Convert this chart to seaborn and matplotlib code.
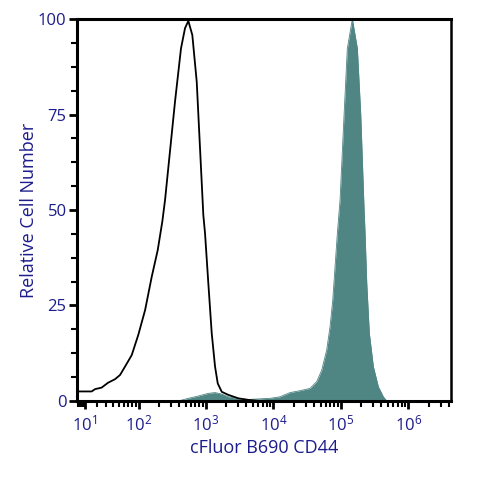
import numpy as np
import matplotlib
matplotlib.use("Agg")
from matplotlib import pyplot as plt
from matplotlib.ticker import FixedLocator, FixedFormatter
import seaborn as sns

# control (unstained) histogram, open black line
ctrl_x = [4.2, 15.4, 18.4, 25, 32.9, 42.8, 51.6, 61.8, 78.4, 98.7, 125, 157, 193, 226,
          248, 349, 428, 491, 550, 630, 732, 819, 917, 972, 1088, 1222, 1368, 1500,
          1720, 2153, 3027, 4216, 6356]
ctrl_y = [2.5, 2.5, 3.1, 3.5, 4.8, 5.7, 6.8, 9.0, 12.0, 17.3, 23.8, 32.5, 39.5, 47.0,
          52.6, 78.4, 92.3, 97.6, 99.5, 95.8, 83.6, 66.2, 48.7, 43.9, 30.8, 17.7, 9.0, 4.6,
          2.4, 1.6, 0.7, 0.3, 0.0]

# cFluor B690 CD44 stained histogram, filled
stain_x = [390, 550, 773, 1088, 1368, 1720, 2153, 3027, 4262, 8930, 12560, 17660,
           24860, 34940, 43960, 52140, 61800, 69220, 75880, 82100, 88800, 97340,
           111600, 124800, 148100, 175700, 197400, 220700, 228600, 242200, 264600,
           303400, 360000, 426600, 479200]
stain_y = [0.0, 0.7, 1.3, 2.0, 2.2, 1.8, 1.1, 0.6, 0.4, 0.7, 1.1, 2.2,
           2.7, 3.3, 5.1, 8.1, 13.4, 19.5, 26.4, 35.2, 43.9, 52.6,
           74.9, 92.3, 100.0, 92.3, 74.9, 50.4, 43.9, 30.8, 17.7,
           9.0, 3.7, 1.1, 0.0]

x_major = [10, 100, 1000, 10000, 100000, 1000000]
x_major_labels = ["$10^{1}$", "$10^{2}$", "$10^{3}$", "$10^{4}$", "$10^{5}$", "$10^{6}$"]
y_major = [0, 25, 50, 75, 100]

navy = "#1c1c8c"
teal = "#4f8583"

sns.set_style("ticks")
plt.rcParams['font.family'] = ['Open Sans', 'DejaVu Sans']
plt.rcParams['mathtext.fontset'] = 'custom'
plt.rcParams['mathtext.rm'] = 'Open Sans'
plt.rcParams['mathtext.it'] = 'Open Sans'

fig = plt.figure(figsize=(4.8, 4.8), dpi=100)
ax = fig.add_axes([0.1604, 0.1646, 0.7792, 0.7958])


def fwd(v):
    return np.arcsinh(np.asarray(v) / 20.0)


def inv(v):
    return 20.0 * np.sinh(np.asarray(v))


ax.set_xscale('function', functions=(fwd, inv))

ax.fill_between(stain_x, stain_y, 0, color=teal, lw=0, zorder=2)
sns.lineplot(x=stain_x, y=stain_y, color=teal, lw=0.6, sort=False, estimator=None,
             ax=ax, zorder=2)
sns.lineplot(x=ctrl_x, y=ctrl_y, color='black', lw=1.3, sort=False, estimator=None,
             ax=ax, zorder=3)

ax.set_xlim(4.2, 4.29e6)
ax.set_ylim(0, 100)

# ticks
minor_x = [m * 10 ** d for d in range(0, 7) for m in range(2, 10)]
minor_x = [v for v in minor_x if 4.2 < v < 4.29e6 and v not in x_major]
ax.xaxis.set_major_locator(FixedLocator(x_major))
ax.xaxis.set_major_formatter(FixedFormatter(x_major_labels))
ax.xaxis.set_minor_locator(FixedLocator(minor_x))
ax.yaxis.set_major_locator(FixedLocator(y_major))
ax.yaxis.set_minor_locator(FixedLocator([v for v in np.arange(0, 100.1, 6.25) if v not in y_major]))

ax.tick_params(axis='both', which='major', direction='out', length=6, width=2,
               labelsize=12, labelcolor=navy, color='black')
ax.tick_params(axis='both', which='minor', direction='out', length=4, width=1.5,
               color='black')
ax.tick_params(axis='x', which='major', pad=4)
ax.tick_params(axis='y', which='major', pad=1.5)

for side in ['left', 'bottom', 'top']:
    ax.spines[side].set_linewidth(2.2)
ax.spines['right'].set_linewidth(1.8)
for s in ax.spines.values():
    s.set_color('black')
    s.set_visible(True)

ax.set_xlabel("cFluor B690 CD44", fontsize=13, color=navy, labelpad=3)
ax.set_ylabel("Relative Cell Number", fontsize=13, color=navy, labelpad=0)

fig.savefig("out.png", dpi=100)
